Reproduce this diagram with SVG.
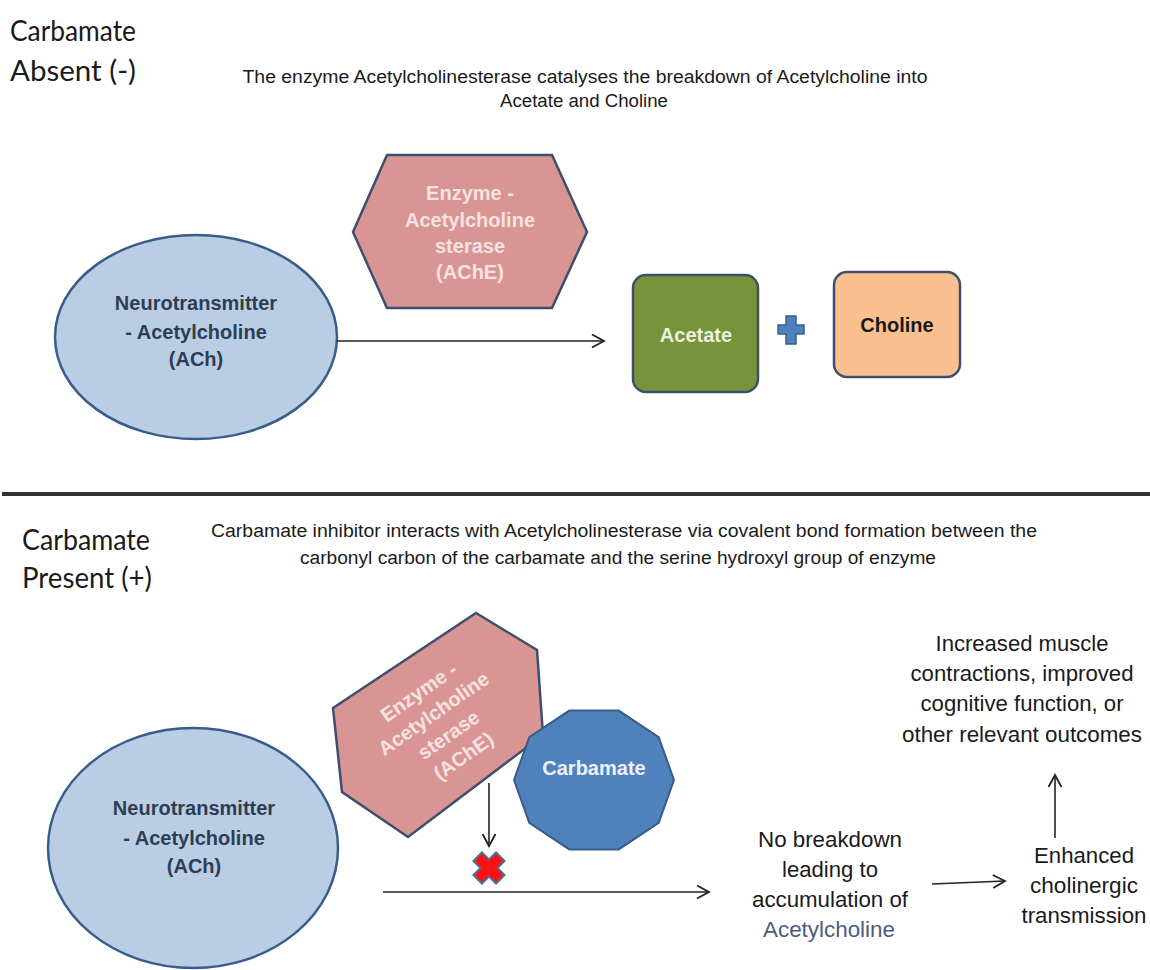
<svg xmlns="http://www.w3.org/2000/svg" width="1150" height="970" viewBox="0 0 1150 970">
<style>
.cap{font-family:Lato,"Open Sans","Liberation Sans",sans-serif;font-size:29px;fill:#1a1a1a}
.desc{font-family:"Liberation Sans",Arial,sans-serif;font-size:18px;fill:#1a1a1a;text-anchor:middle}
.side{font-family:"Liberation Sans",Arial,sans-serif;font-size:22px;text-anchor:middle}
.lbl{font-family:"Liberation Sans",Arial,sans-serif;font-size:20px;font-weight:bold;text-anchor:middle}
.ell{fill:#b9cde5;stroke:#385d8a;stroke-width:2.5}
.hex{fill:#d99594;stroke:#3d4f6e;stroke-width:2.5}
.conn{stroke:#222;stroke-width:1.6;fill:none}
</style>
<defs>
<marker id="chev" markerUnits="userSpaceOnUse" markerWidth="16" markerHeight="16" refX="13" refY="7" orient="auto">
<path d="M1,0.5 L13,7 L1,13.5" fill="none" stroke="#222" stroke-width="1.8"/>
</marker>
</defs>
<rect width="1150" height="970" fill="#ffffff"/>

<!-- captions and descriptions -->
<g id="captions">
<text class="cap" x="10" y="41" textLength="126" lengthAdjust="spacingAndGlyphs">Carbamate</text>
<text class="cap" x="10" y="81" textLength="126" lengthAdjust="spacingAndGlyphs">Absent  (-)</text>
<text class="desc" x="585" y="83" textLength="685" lengthAdjust="spacingAndGlyphs">The enzyme Acetylcholinesterase catalyses the breakdown of Acetylcholine into</text>
<text class="desc" x="584" y="107" textLength="168" lengthAdjust="spacingAndGlyphs">Acetate and Choline</text>
<text class="cap" x="22" y="550" textLength="128" lengthAdjust="spacingAndGlyphs">Carbamate</text>
<text class="cap" x="22" y="588" textLength="130" lengthAdjust="spacingAndGlyphs">Present  (+)</text>
<text class="desc" x="624" y="537" textLength="826" lengthAdjust="spacingAndGlyphs">Carbamate inhibitor interacts with Acetylcholinesterase via covalent bond formation between the</text>
<text class="desc" x="618" y="564" textLength="636" lengthAdjust="spacingAndGlyphs">carbonyl carbon of the carbamate and the serine hydroxyl group of enzyme</text>
</g>

<line id="divider" x1="2" y1="494" x2="1150" y2="494" stroke="#333" stroke-width="4"/>

<!-- top section nodes -->
<g id="ach-top">
<ellipse class="ell" cx="196" cy="337" rx="141" ry="102"/>
<text class="lbl" fill="#2f3d52" x="196" y="310">Neurotransmitter</text>
<text class="lbl" fill="#2f3d52" x="196" y="339">- Acetylcholine</text>
<text class="lbl" fill="#2f3d52" x="196" y="366">(ACh)</text>
</g>
<g id="ache-top">
<polygon class="hex" points="387,155 552,155 587,232 552,308 387,308 353,232"/>
<text class="lbl" fill="#f5e2e1" x="470" y="200">Enzyme -</text>
<text class="lbl" fill="#f5e2e1" x="470" y="227">Acetylcholine</text>
<text class="lbl" fill="#f5e2e1" x="470" y="253">sterase</text>
<text class="lbl" fill="#f5e2e1" x="470" y="279">(AChE)</text>
</g>
<g id="acetate">
<rect x="633" y="275" width="125" height="117" rx="13" fill="#77933c" stroke="#3d4f6e" stroke-width="2.5"/>
<text class="lbl" fill="#ebf1de" x="696" y="342">Acetate</text>
</g>
<g id="plus">
<polygon points="786,316 796,316 796,325 804,325 804,334 796,334 796,344 786,344 786,334 778,334 778,325 786,325" fill="#4f81bd" stroke="#385d8a" stroke-width="1.5"/>
</g>
<g id="choline">
<rect x="834" y="272" width="126" height="105" rx="13" fill="#fac090" stroke="#3d4f6e" stroke-width="2.5"/>
<text class="lbl" fill="#1a1a1a" x="897" y="332">Choline</text>
</g>

<!-- bottom section nodes -->
<g id="ach-bottom">
<ellipse class="ell" cx="193" cy="848" rx="145" ry="120"/>
<text class="lbl" fill="#2f3d52" x="194" y="815">Neurotransmitter</text>
<text class="lbl" fill="#2f3d52" x="194" y="845">- Acetylcholine</text>
<text class="lbl" fill="#2f3d52" x="194" y="873">(ACh)</text>
</g>
<g id="ache-bottom">
<polygon class="hex" points="333,708 476,613 537,650 543,735 408,837 342,792"/>
<g transform="translate(441,724) rotate(-35)">
<text class="lbl" fill="#f5e2e1" x="0" y="-32">Enzyme -</text>
<text class="lbl" fill="#f5e2e1" x="0" y="-6">Acetylcholine</text>
<text class="lbl" fill="#f5e2e1" x="0" y="20">sterase</text>
<text class="lbl" fill="#f5e2e1" x="0" y="46">(AChE)</text>
</g>
</g>
<g id="carbamate">
<polygon points="674,780 658.7,737.1 618.7,710.6 569.3,710.6 529.3,737.1 514,780 529.3,822.9 569.3,849.4 618.7,849.4 658.7,822.9" fill="#4f81bd" stroke="#385d8a" stroke-width="2"/>
<text class="lbl" fill="#eef2f8" x="594" y="775">Carbamate</text>
</g>
<g id="block">
<polygon points="-6,-16 6,-16 6,-6 16,-6 16,6 6,6 6,16 -6,16 -6,6 -16,6 -16,-6 -6,-6" transform="translate(489,868) rotate(45)" fill="#ff1010" stroke="#4f6d9a" stroke-width="2"/>
</g>
<g id="no-breakdown">
<text class="side" fill="#1a1a1a" x="830" y="847" textLength="144" lengthAdjust="spacingAndGlyphs">No breakdown</text>
<text class="side" fill="#1a1a1a" x="830" y="877" textLength="96" lengthAdjust="spacingAndGlyphs">leading to</text>
<text class="side" fill="#1a1a1a" x="830" y="907" textLength="156" lengthAdjust="spacingAndGlyphs">accumulation of</text>
<text class="side" fill="#4a5d7e" x="829" y="937" textLength="132" lengthAdjust="spacingAndGlyphs">Acetylcholine</text>
</g>
<g id="enhanced">
<text class="side" fill="#1a1a1a" x="1084" y="863" textLength="100" lengthAdjust="spacingAndGlyphs">Enhanced</text>
<text class="side" fill="#1a1a1a" x="1084" y="893" textLength="108" lengthAdjust="spacingAndGlyphs">cholinergic</text>
<text class="side" fill="#1a1a1a" x="1084" y="923" textLength="125" lengthAdjust="spacingAndGlyphs">transmission</text>
</g>
<g id="outcomes">
<text class="side" fill="#1a1a1a" x="1022" y="651" textLength="173" lengthAdjust="spacingAndGlyphs">Increased muscle</text>
<text class="side" fill="#1a1a1a" x="1022" y="681" textLength="223" lengthAdjust="spacingAndGlyphs">contractions, improved</text>
<text class="side" fill="#1a1a1a" x="1022" y="711" textLength="203" lengthAdjust="spacingAndGlyphs">cognitive function, or</text>
<text class="side" fill="#1a1a1a" x="1022" y="742" textLength="240" lengthAdjust="spacingAndGlyphs">other relevant outcomes</text>
</g>

<!-- connectors -->
<g id="connectors">
<line class="conn" x1="337" y1="341" x2="604" y2="341" marker-end="url(#chev)"/>
<line class="conn" x1="489" y1="783" x2="489" y2="846" marker-end="url(#chev)"/>
<line class="conn" x1="383" y1="892" x2="709" y2="892" marker-end="url(#chev)"/>
<line class="conn" x1="932" y1="884" x2="1005" y2="881" marker-end="url(#chev)"/>
<line class="conn" x1="1055" y1="838" x2="1055" y2="775" marker-end="url(#chev)"/>
</g>
</svg>
